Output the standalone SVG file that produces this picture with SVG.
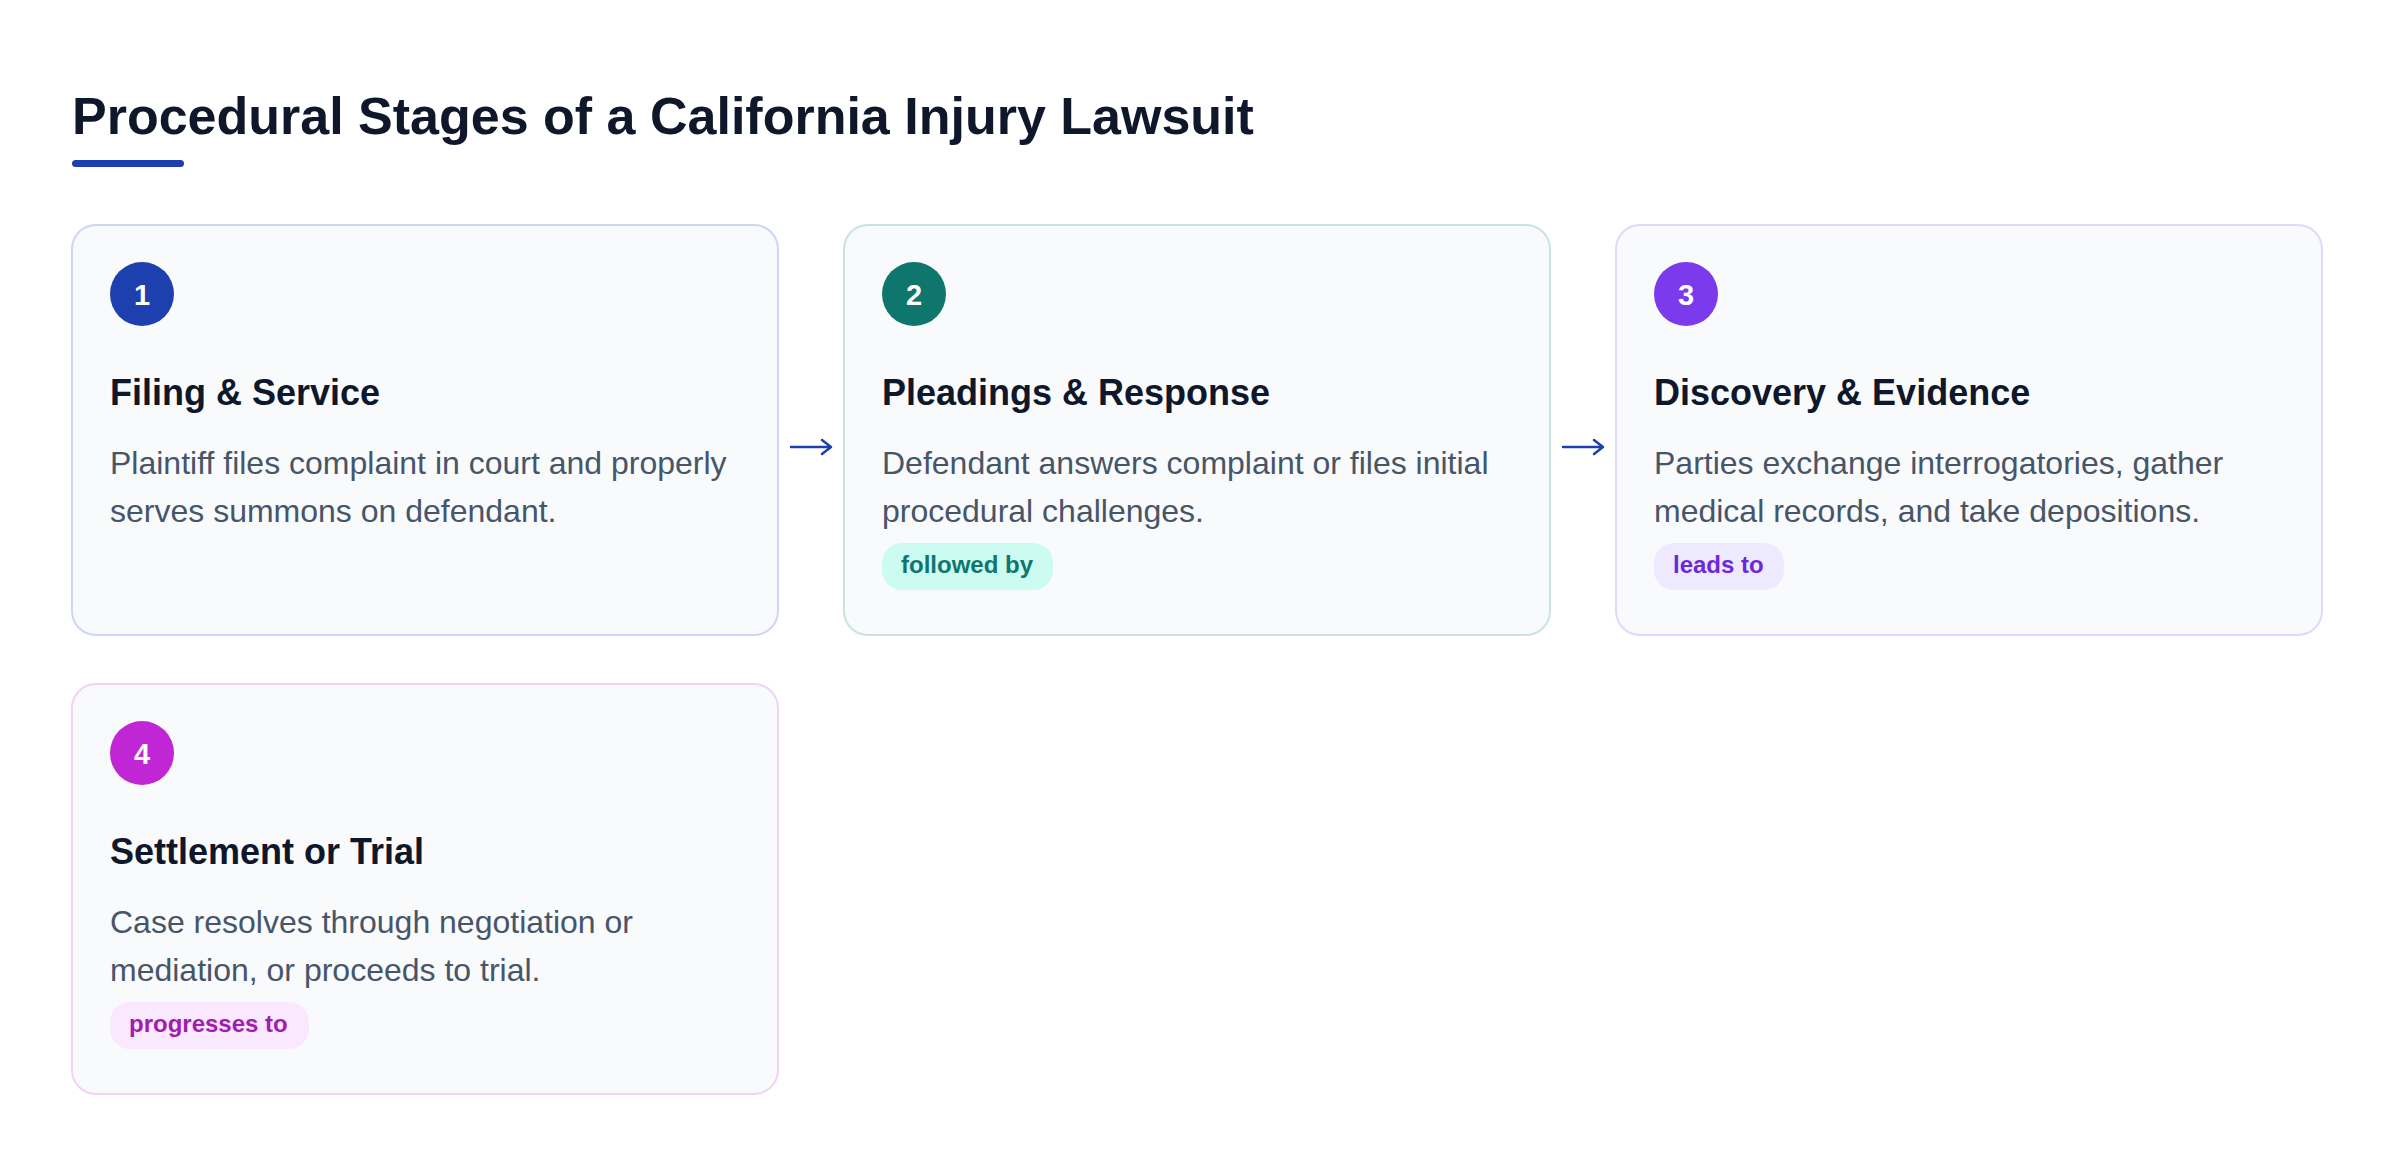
<svg xmlns="http://www.w3.org/2000/svg" width="2400" height="1168" viewBox="0 0 2400 1168">
<style>
text{font-family:"Liberation Sans",Arial,sans-serif}
.title{font-size:52px;font-weight:700;fill:#0f172a}
.card{fill:#f8fafc;stroke-width:2}
.num{font-size:29px;font-weight:700;fill:#ffffff;text-anchor:middle}
.head{font-size:36px;font-weight:700;fill:#0f172a}
.desc{font-size:32px;fill:#475569}
.pill{font-size:24px;font-weight:700}
.conn{fill:none;stroke:#1e40af;stroke-width:2.5;stroke-linecap:round;stroke-linejoin:round}
</style>
<rect width="2400" height="1168" fill="#ffffff"/>
<g id="title">
<text class="title" x="72" y="134">Procedural Stages of a California Injury Lawsuit</text>
<rect x="72" y="160" width="112" height="7" rx="3.5" fill="#1e40af"/>
</g>
<g id="node1">
<rect class="card" x="72" y="225" width="706" height="410" rx="24" stroke="#cdd6f2"/>
<circle cx="142" cy="294" r="32" fill="#1e40af"/>
<text class="num" x="142" y="304.5">1</text>
<text class="head" x="110" y="404.5">Filing &amp; Service</text>
<text class="desc" x="110" y="473.5">Plaintiff files complaint in court and properly</text>
<text class="desc" x="110" y="521.5">serves summons on defendant.</text>
</g>
<g id="node2">
<rect class="card" x="844" y="225" width="706" height="410" rx="24" stroke="#c9e3df"/>
<circle cx="914" cy="294" r="32" fill="#0f766e"/>
<text class="num" x="914" y="304.5">2</text>
<text class="head" x="882" y="404.5">Pleadings &amp; Response</text>
<text class="desc" x="882" y="473.5">Defendant answers complaint or files initial</text>
<text class="desc" x="882" y="521.5">procedural challenges.</text>
<rect x="882" y="543" width="171" height="47" rx="20" fill="#ccfbf1"/>
<text class="pill" x="901" y="573" fill="#0f766e">followed by</text>
</g>
<g id="node3">
<rect class="card" x="1616" y="225" width="706" height="410" rx="24" stroke="#e2d8fb"/>
<circle cx="1686" cy="294" r="32" fill="#7c3aed"/>
<text class="num" x="1686" y="304.5">3</text>
<text class="head" x="1654" y="404.5">Discovery &amp; Evidence</text>
<text class="desc" x="1654" y="473.5">Parties exchange interrogatories, gather</text>
<text class="desc" x="1654" y="521.5">medical records, and take depositions.</text>
<rect x="1654" y="543" width="130" height="47" rx="20" fill="#ede9fe"/>
<text class="pill" x="1673" y="573" fill="#6d28d9">leads to</text>
</g>
<g id="node4">
<rect class="card" x="72" y="684" width="706" height="410" rx="24" stroke="#f1d3f6"/>
<circle cx="142" cy="753" r="32" fill="#c026d3"/>
<text class="num" x="142" y="763.5">4</text>
<text class="head" x="110" y="863.5">Settlement or Trial</text>
<text class="desc" x="110" y="932.5">Case resolves through negotiation or</text>
<text class="desc" x="110" y="980.5">mediation, or proceeds to trial.</text>
<rect x="110" y="1002" width="199" height="47" rx="20" fill="#fae8ff"/>
<text class="pill" x="129" y="1032" fill="#a21caf">progresses to</text>
</g>
<g id="connectors">
<path class="conn" d="M791 447 H830 M822 440 L831 447 L822 454"/>
<path class="conn" d="M1563 447 H1602 M1594 440 L1603 447 L1594 454"/>
</g>
</svg>
